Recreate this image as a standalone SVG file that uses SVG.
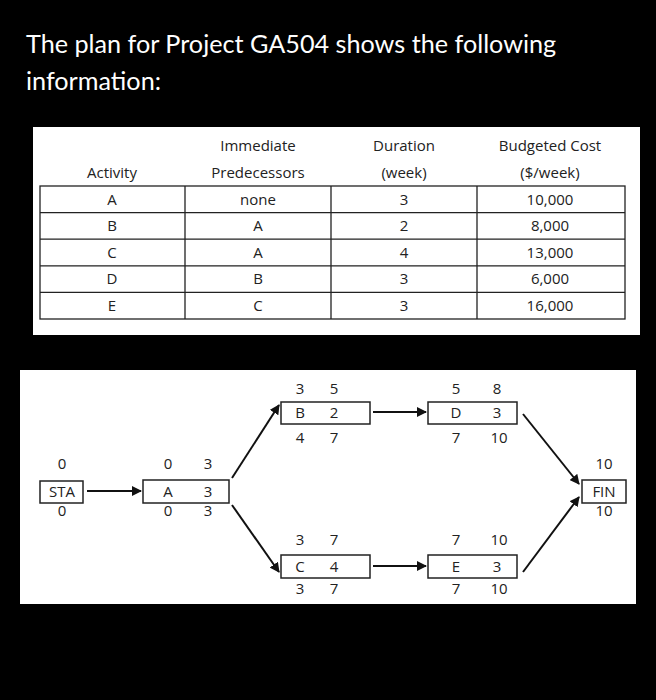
<svg xmlns="http://www.w3.org/2000/svg" width="656" height="700" viewBox="0 0 656 700">
<defs>
<style>
.t{font-family:Lato,"Liberation Sans",sans-serif;font-size:25.2px;fill:#fff}
.c{font-family:"Open Sans","Liberation Sans",sans-serif;font-size:15px;fill:#222;text-anchor:middle}
.g{stroke:#222;stroke-width:1.3;fill:none}
.b{fill:#fff;stroke:#222;stroke-width:1.5}
.e{stroke:#111;stroke-width:2;fill:none;marker-end:url(#ah)}
</style>
<marker id="ah" viewBox="0 0 10 10" refX="9" refY="5" markerWidth="5" markerHeight="5" orient="auto"><path d="M0,0L10,5L0,10z" fill="#111"/></marker>
</defs>
<rect width="656" height="700" fill="#000"/>
<text class="t" x="26" y="53">The plan for Project GA504 shows the following</text>
<text class="t" x="26" y="90">information:</text>
<g id="table">
<rect x="33" y="127" width="607" height="208" fill="#fff"/>
<text class="c" x="258" y="151">Immediate</text>
<text class="c" x="404" y="151">Duration</text>
<text class="c" x="550" y="151">Budgeted Cost</text>
<text class="c" x="112" y="178">Activity</text>
<text class="c" x="258" y="178">Predecessors</text>
<text class="c" x="404" y="178">(week)</text>
<text class="c" x="550" y="178">($/week)</text>
<rect class="g" x="40" y="186" width="585" height="133"/>
<path class="g" d="M185,186V319M331,186V319M477,186V319M40,212.6H625M40,239.2H625M40,265.8H625M40,292.4H625"/>
<g class="c">
<text x="112" y="205">A</text><text x="258" y="205">none</text><text x="404" y="205">3</text><text x="550" y="205">10,000</text>
<text x="112" y="231">B</text><text x="258" y="231">A</text><text x="404" y="231">2</text><text x="550" y="231">8,000</text>
<text x="112" y="258">C</text><text x="258" y="258">A</text><text x="404" y="258">4</text><text x="550" y="258">13,000</text>
<text x="112" y="284">D</text><text x="258" y="284">B</text><text x="404" y="284">3</text><text x="550" y="284">6,000</text>
<text x="112" y="311">E</text><text x="258" y="311">C</text><text x="404" y="311">3</text><text x="550" y="311">16,000</text>
</g>
</g>
<rect x="20" y="370" width="616" height="234" fill="#fff"/>
<g id="connectors">
<path class="e" d="M87,491H141"/>
<path class="e" d="M232,478L279,405"/>
<path class="e" d="M232,505L279,572"/>
<path class="e" d="M373,412H426"/>
<path class="e" d="M373,566H426"/>
<path class="e" d="M523,414L579,484"/>
<path class="e" d="M523,572L579,497"/>
</g>
<g id="STA"><rect class="b" x="40" y="481" width="43" height="22"/><text class="c" x="62" y="497">STA</text><text class="c" x="62" y="469">0</text><text class="c" x="62" y="516">0</text></g>
<g id="A"><rect class="b" x="143" y="480" width="86" height="23"/><text class="c" x="168" y="497">A</text><text class="c" x="208" y="497">3</text><text class="c" x="168" y="469">0</text><text class="c" x="208" y="469">3</text><text class="c" x="168" y="516">0</text><text class="c" x="208" y="516">3</text></g>
<g id="B"><rect class="b" x="281" y="402" width="89" height="22"/><text class="c" x="300" y="418">B</text><text class="c" x="334" y="418">2</text><text class="c" x="300" y="394">3</text><text class="c" x="334" y="394">5</text><text class="c" x="300" y="443">4</text><text class="c" x="334" y="443">7</text></g>
<g id="D"><rect class="b" x="428" y="402" width="89" height="22"/><text class="c" x="456" y="418">D</text><text class="c" x="497" y="418">3</text><text class="c" x="456" y="394">5</text><text class="c" x="497" y="394">8</text><text class="c" x="456" y="443">7</text><text class="c" x="499" y="443">10</text></g>
<g id="C"><rect class="b" x="281" y="555" width="89" height="23"/><text class="c" x="300" y="572">C</text><text class="c" x="334" y="572">4</text><text class="c" x="300" y="545">3</text><text class="c" x="334" y="545">7</text><text class="c" x="300" y="594">3</text><text class="c" x="334" y="594">7</text></g>
<g id="E"><rect class="b" x="428" y="555" width="89" height="23"/><text class="c" x="456" y="572">E</text><text class="c" x="497" y="572">3</text><text class="c" x="456" y="545">7</text><text class="c" x="499" y="545">10</text><text class="c" x="456" y="594">7</text><text class="c" x="499" y="594">10</text></g>
<g id="FIN"><rect class="b" x="582" y="480" width="44" height="23"/><text class="c" x="604" y="497">FIN</text><text class="c" x="604" y="469">10</text><text class="c" x="604" y="516">10</text></g>
</svg>
